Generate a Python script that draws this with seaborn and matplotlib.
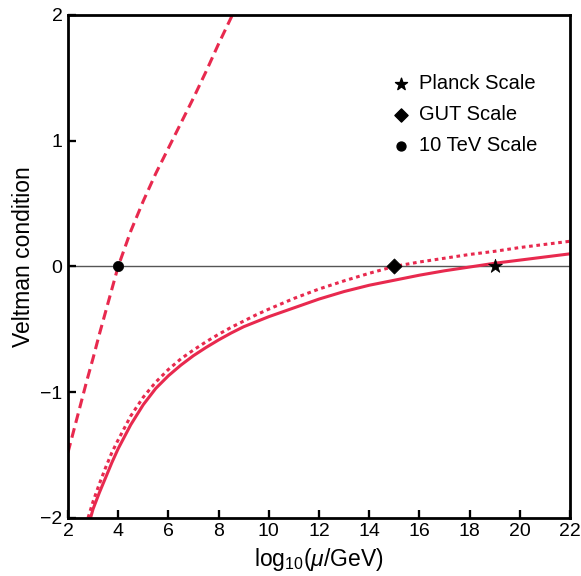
import matplotlib
matplotlib.use("Agg")
import matplotlib.pyplot as plt
import seaborn as sns
import pandas as pd

# Running of the Veltman condition for three parameter choices
x_dashed = [2.0, 2.25, 2.5, 2.75, 3.0, 3.25, 3.5, 3.75, 4.0, 4.5, 5.0, 5.5, 6.0, 6.5,
            7.0, 7.5, 8.0, 8.55]
y_dashed = [-1.48, -1.29, -1.1, -0.91, -0.73, -0.54, -0.36, -0.18, 0.0, 0.28, 0.52,
            0.74, 0.94, 1.14, 1.34, 1.55, 1.77, 2.0]

x_dotted = [2.8, 3.0, 3.25, 3.5, 3.75, 4.0, 4.5, 5.0, 5.5, 6.0, 6.5, 7.0, 7.5, 8.0, 8.5,
            9.0, 9.5, 10, 11, 12, 13, 14, 15, 16, 17, 18, 19, 20, 21, 22]
y_dotted = [-2.0, -1.87, -1.73, -1.60, -1.48, -1.38, -1.19, -1.04, -0.92, -0.82, -0.735,
            -0.665, -0.60, -0.54, -0.485, -0.435, -0.385, -0.34, -0.255, -0.18, -0.115,
            -0.055, 0.0, 0.035, 0.065, 0.095, 0.12, 0.15, 0.175, 0.2]

x_solid = [2.9, 3.0, 3.25, 3.5, 3.75, 4.0, 4.5, 5.0, 5.5, 6.0, 6.5, 7.0, 7.5, 8.0, 8.5,
           9.0, 9.5, 10, 11, 12, 13, 14, 15, 16, 17, 18, 19, 20, 21, 22]
y_solid = [-2.0, -1.93, -1.80, -1.68, -1.56, -1.45, -1.26, -1.10, -0.97, -0.87, -0.785,
           -0.71, -0.645, -0.585, -0.53, -0.48, -0.44, -0.40, -0.33, -0.26, -0.20,
           -0.15, -0.11, -0.07, -0.035, -0.005, 0.025, 0.05, 0.075, 0.10]

# Reference scales marked on the zero line
scale_names = ["Planck Scale", "GUT Scale", "10 TeV Scale"]
scale_x = [19, 15, 4]
scale_y = [0, 0, 0]
scale_markers = ["*", "D", "o"]
scale_sizes = [110, 60, 55]

x_ticks = [2, 4, 6, 8, 10, 12, 14, 16, 18, 20, 22]
y_ticks = [-2, -1, 0, 1, 2]

sns.set_style("ticks")
plt.rcParams["font.family"] = ["Liberation Sans", "DejaVu Sans"]
plt.rcParams["axes.unicode_minus"] = True
plt.rcParams["mathtext.fontset"] = "custom"
plt.rcParams["mathtext.rm"] = "Liberation Sans"
plt.rcParams["mathtext.it"] = "Liberation Sans:italic"
plt.rcParams["text.color"] = "black"
plt.rcParams["axes.labelcolor"] = "black"
plt.rcParams["axes.axisbelow"] = False
plt.rcParams["xtick.direction"] = "in"
plt.rcParams["ytick.direction"] = "in"

fig = plt.figure(figsize=(5.81, 5.76), dpi=100)
ax = fig.add_axes([0.117, 0.101, 0.864, 0.873])

red = "#E8294E"
ax.axhline(0, color="#555555", lw=1.0, zorder=1)

df_dash = pd.DataFrame({"x": x_dashed, "y": y_dashed})
df_dot = pd.DataFrame({"x": x_dotted, "y": y_dotted})
df_sol = pd.DataFrame({"x": x_solid, "y": y_solid})

sns.lineplot(data=df_dash, x="x", y="y", ax=ax, color=red, lw=2.2, sort=False,
             linestyle=(0, (3.2, 1.8)), zorder=2)
sns.lineplot(data=df_dot, x="x", y="y", ax=ax, color=red, lw=2.2, sort=False,
             linestyle=(0, (1.2, 1.2)), zorder=2)
sns.lineplot(data=df_sol, x="x", y="y", ax=ax, color=red, lw=2.2, sort=False, zorder=2)

handles = []
for name, sx, sy, mk, sz in zip(scale_names, scale_x, scale_y, scale_markers, scale_sizes):
    sns.scatterplot(x=[sx], y=[sy], ax=ax, marker=mk, s=sz, color="black",
                    edgecolor="black", linewidth=0.5, zorder=3, legend=False)
    h = ax.scatter([], [], marker=mk, s=sz * 0.75, color="black", label=name)
    handles.append(h)

leg = ax.legend(handles=handles, loc="upper right", bbox_to_anchor=(0.951, 0.899),
                frameon=False, fontsize=14.5, handlelength=0.8, handletextpad=0.5,
                labelspacing=0.6, borderaxespad=0.0)

ax.set_xlim(2, 22)
ax.set_ylim(-2, 2)
ax.set_xticks(x_ticks)
ax.set_yticks(y_ticks)
ax.set_xlabel(r"log$_{10}$($\mathit{\mu}$/GeV)", fontsize=16.5, labelpad=4)
ax.set_ylabel("Veltman condition", fontsize=16.5)
ax.yaxis.set_label_coords(-0.066, 0.52)
ax.tick_params(direction="in", length=6, width=1.5, color="black", labelcolor="black",
               labelsize=14, top=False, right=False, pad=4)
for sp in ax.spines.values():
    sp.set_visible(True)
    sp.set_linewidth(2.0)
    sp.set_color("black")

# inward tick segments along the bottom and left frame edges
ax.vlines(x_ticks, 0, 0.015, transform=ax.get_xaxis_transform(), colors="black",
          linewidth=1.6, clip_on=False, zorder=6)
ax.hlines(y_ticks, 0, 0.015, transform=ax.get_yaxis_transform(), colors="black",
          linewidth=1.6, clip_on=False, zorder=6)

fig.savefig("out.png", dpi=100)
